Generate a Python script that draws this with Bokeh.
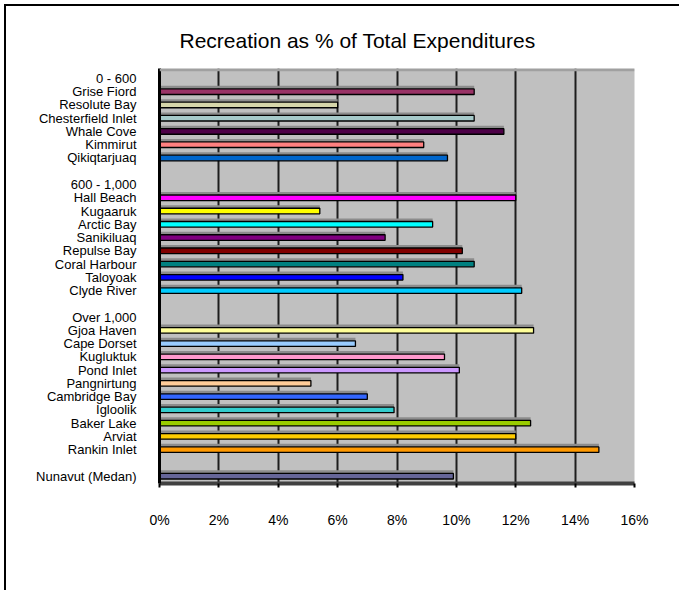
from bokeh.plotting import figure
from bokeh.models import Range1d, FixedTicker, ColumnDataSource, BoxAnnotation, InlineStyleSheet
from bokeh.embed import file_html
from bokeh.resources import INLINE

# ---- data (rows from top to bottom; None = header / spacer row) ----
row_labels = ["0 - 600", "Grise Fiord", "Resolute Bay", "Chesterfield Inlet", "Whale Cove",
              "Kimmirut", "Qikiqtarjuaq", "",
              "600 - 1,000", "Hall Beach", "Kugaaruk", "Arctic Bay", "Sanikiluaq",
              "Repulse Bay", "Coral Harbour", "Taloyoak", "Clyde River", "",
              "Over 1,000", "Gjoa Haven", "Cape Dorset", "Kugluktuk", "Pond Inlet",
              "Pangnirtung", "Cambridge Bay", "Igloolik", "Baker Lake", "Arviat",
              "Rankin Inlet", "",
              "Nunavut (Medan)"]
row_values = [None, 10.6, 6.0, 10.6, 11.6, 8.9, 9.7, None,
              None, 12.0, 5.4, 9.2, 7.6, 10.2, 10.6, 8.2, 12.2, None,
              None, 12.6, 6.6, 9.6, 10.1, 5.1, 7.0, 7.9, 12.5, 12.0, 14.8, None,
              9.9]
row_colors = [None, "#993366", "#D6D6AA", "#A6CACA", "#4D0047", "#FF8080", "#0066CC", None,
              None, "#FF00FF", "#FFFF00", "#00FFFF", "#800080", "#800000", "#008080",
              "#0000FF", "#00CCFF", None,
              None, "#FFFF99", "#99CCFF", "#FF99CC", "#CC99FF", "#FFCC99", "#3366FF",
              "#33CCCC", "#99CC00", "#FFCC00", "#FF9900", None,
              "#666699"]
x_ticks = [0, 2, 4, 6, 8, 10, 12, 14, 16]
x_tick_labels = ["0%", "2%", "4%", "6%", "8%", "10%", "12%", "14%", "16%"]
title_text = "Recreation as % of Total Expenditures"

# ---- build sources ----
ys, vals, cols = [], [], []
for i, (v, c) in enumerate(zip(row_values, row_colors)):
    if v is not None:
        ys.append(i)
        vals.append(v)
        cols.append(c)
src = ColumnDataSource(dict(y=ys, v=vals, c=cols, ys=[y - 0.33 for y in ys]))

n = len(row_labels)
p = figure(width=679, height=590,
           x_range=Range1d(0, 16), y_range=Range1d(n - 1 + 0.55, -0.75),
           output_backend="svg", toolbar_location=None,
           min_border_left=159, min_border_right=45, min_border_top=68, min_border_bottom=107)

# outer chart-area border (left and top edges only; the rest lies outside the window)
p.stylesheets = [InlineStyleSheet(css="""
:host::after {
  content: "";
  position: absolute;
  left: 4px; top: 4px;
  width: calc(100% - 4px); height: calc(100% - 4px);
  border-left: 2px solid black; border-top: 2px solid black;
  box-sizing: border-box;
  pointer-events: none;
  z-index: 100;
}
""")]

p.background_fill_color = "#C0C0C0"
p.border_fill_color = "white"
p.outline_line_color = None

# title
p.title.text = title_text
p.title.text_font = "Liberation Sans"
p.title.text_font_size = "21px"
p.title.text_font_style = "normal"
p.title.text_color = "black"
p.title.align = "left"
p.title.offset = 20
p.title.standoff = 33

# grid
p.xgrid.ticker = FixedTicker(ticks=x_ticks)
p.xgrid.grid_line_color = "black"
p.xgrid.grid_line_width = 2
p.xgrid.grid_line_alpha = 0.85
p.ygrid.grid_line_color = None

# top depth band
p.add_layout(BoxAnnotation(top=-0.75, bottom=-0.55, fill_color="#A0A0A0", fill_alpha=1,
                           line_color=None))

# bar depth shadows and bars
p.hbar(y="ys", left=0, right="v", height=0.22, source=src,
       fill_color="#8C8C8C", line_color=None)
p.hbar(y="y", left=0, right="v", height=0.42, source=src,
       fill_color="c", line_color="black", line_width=1.3)

# x axis
p.xaxis.ticker = FixedTicker(ticks=x_ticks)
p.xaxis.major_label_overrides = {t: l for t, l in zip(x_ticks, x_tick_labels)}
p.xaxis.axis_line_color = "#404040"
p.xaxis.axis_line_width = 4
p.xaxis.major_tick_in = 0
p.xaxis.major_tick_out = 4
p.xaxis.major_tick_line_color = "black"
p.xaxis.major_tick_line_width = 2
p.xaxis.minor_tick_line_color = None
p.xaxis.major_label_standoff = 24
p.xaxis.major_label_text_font = "Liberation Sans"
p.xaxis.major_label_text_font_size = "14px"
p.xaxis.major_label_text_color = "black"

# y axis
label_ticks = [i for i, l in enumerate(row_labels) if l]
p.yaxis.ticker = FixedTicker(ticks=label_ticks)
p.yaxis.major_label_overrides = {i: row_labels[i] for i in label_ticks}
p.yaxis.axis_line_color = "black"
p.yaxis.axis_line_width = 3
p.yaxis.major_tick_line_color = None
p.yaxis.minor_tick_line_color = None
p.yaxis.major_label_standoff = 17
p.yaxis.major_label_text_font = "Liberation Sans"
p.yaxis.major_label_text_font_size = "13px"
p.yaxis.major_label_text_color = "black"

open("out.html", "w").write(file_html(p, INLINE))
